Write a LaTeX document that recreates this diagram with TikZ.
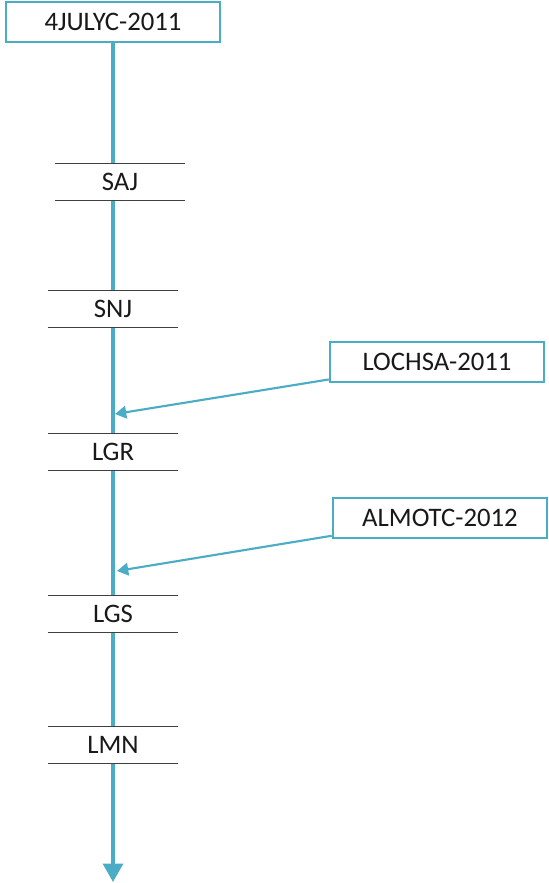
\documentclass[tikz,border=0pt]{standalone}
\usepackage{fontspec}
\setmainfont{Carlito}
\usepackage{tikz}
\usetikzlibrary{arrows.meta}

\definecolor{aqua}{HTML}{4BACC6}

\begin{document}
\begin{tikzpicture}[x=0.025cm,y=-0.025cm,
    every node/.style={font=\fontsize{19}{22}\selectfont,text=black!90},
    tag/.style={draw=aqua,line width=1.8pt,fill=white,minimum width=5.35cm,minimum height=0.99cm,inner sep=0pt},
    station/.style={fill=white,minimum width=3.25cm,minimum height=0.9cm,inner sep=0pt},
    rail/.style={draw=black!75,line width=1pt}]
    \useasboundingbox (0,0) rectangle (548,883);

    \node[tag] (top) at (113,22) {4JULYC-2011};
    \coordinate (end) at (113,882);
    \path (top) [aqua,line width=2.6pt,-{Triangle[length=13pt,width=14pt]}] edge (end);

    \node[station] (saj) at (120,182) {SAJ};
    \node[station] (snj) at (113,309) {SNJ};
    \node[station] (lgr) at (113,452) {LGR};
    \node[station] (lgs) at (113,614) {LGS};
    \node[station] (lmn) at (113,745) {LMN};
    \foreach \n in {saj,snj,lgr,lgs,lmn}
      \path[rail] (\n.north west) -- (\n.north east) (\n.south west) -- (\n.south east);

    \node[tag] (lochsa) at (437,362) {LOCHSA-2011};
    \node[tag] (almotc) at (440,518) {ALMOTC-2012};
    \coordinate (hit1) at (115,414);
    \coordinate (hit2) at (117,571);

    \path[aqua,line width=1.5pt,-{Triangle[length=8pt,width=9pt]}]
    (lochsa) edge (hit1)
    (almotc) edge (hit2);
\end{tikzpicture}
\end{document}
